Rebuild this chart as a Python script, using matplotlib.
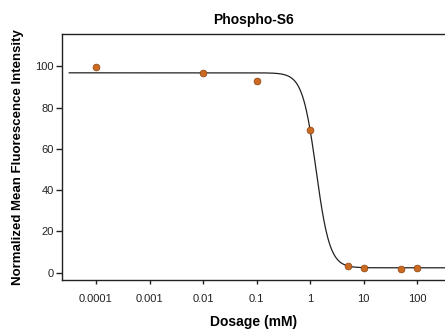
import numpy as np
import matplotlib
matplotlib.use("Agg")
import matplotlib.pyplot as plt
from matplotlib import font_manager

fams = {f.name for f in font_manager.fontManager.ttflist}
fam = ['Liberation Sans Narrow', 'Liberation Sans', 'DejaVu Sans'] if 'Liberation Sans Narrow' in fams else ['Liberation Sans', 'DejaVu Sans']
plt.rcParams['font.family'] = fam

# Data
dose = [0.0001, 0.01, 0.1, 1, 5, 10, 50, 100]
intensity = [99.5, 96.5, 93.0, 69.0, 3.5, 2.5, 2.0, 2.5]
x_ticks = [0.0001, 0.001, 0.01, 0.1, 1, 10, 100]
x_tick_labels = ["0.0001", "0.001", "0.01", "0.1", "1", "10", "100"]
y_ticks = [0, 20, 40, 60, 80, 100]

# Fitted 4-parameter logistic curve parameters
fit_top = 96.8
fit_bottom = 2.4
fit_ic50 = 1.29
fit_hill = 3.4

fig = plt.figure(figsize=(4.45, 3.29), dpi=100)
ax = fig.add_axes([0.1393, 0.149, 0.8607, 0.7477])

xmin, xmax = 10 ** -4.635, 10 ** 2.517
xs = np.logspace(-4.5, np.log10(xmax), 600)
ys = fit_bottom + (fit_top - fit_bottom) / (1 + (xs / fit_ic50) ** fit_hill)
ax.plot(xs, ys, color='#222222', lw=0.9, zorder=2)
ax.scatter(dose, intensity, s=24, color='#CC6A22', edgecolors='#8A4210', linewidths=0.5, zorder=3)

ax.set_xscale('log')
ax.set_xlim(xmin, xmax)
ax.set_ylim(-3.5, 115.6)
ax.set_xticks(x_ticks)
ax.set_xticklabels(x_tick_labels)
ax.minorticks_off()
ax.set_yticks(y_ticks)

for s in ['left', 'top', 'bottom']:
    ax.spines[s].set_color('#222222')
    ax.spines[s].set_linewidth(1.0)
ax.spines['right'].set_visible(False)
ax.tick_params(axis='both', direction='out', labelsize=8, colors='#222222', width=1.0)
ax.tick_params(axis='y', length=4, pad=2)
ax.tick_params(axis='x', length=3, pad=7)

ax.set_title('Phospho-S6', fontsize=10, fontweight='bold', pad=7)
ax.set_xlabel('Dosage (mM)', fontsize=10, fontweight='bold', labelpad=8)
ax.set_ylabel('Normalized Mean Fluorescence Intensity', fontsize=9.5, fontweight='bold', labelpad=8)

fig.savefig('out.png', dpi=100)
